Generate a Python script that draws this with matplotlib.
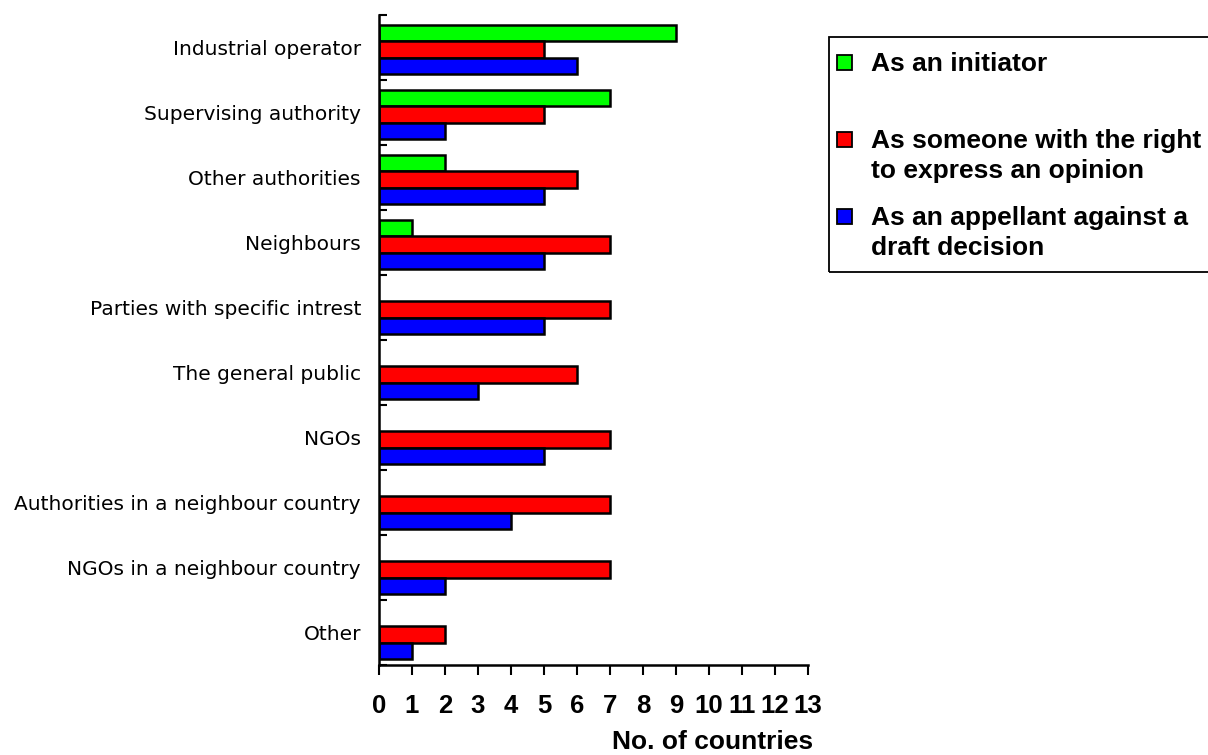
import numpy as np
import matplotlib.pyplot as plt
from matplotlib.patches import Rectangle

# Dados
categories = ['Industrial operator', 'Supervising authority', 'Other authorities',
              'Neighbours', 'Parties with specific intrest', 'The general public',
              'NGOs', 'Authorities in a neighbour country',
              'NGOs in a neighbour country', 'Other']
initiator = [9, 7, 2, 1, 0, 0, 0, 0, 0, 0]
opinion = [5, 5, 6, 7, 7, 6, 7, 7, 7, 2]
appellant = [6, 2, 5, 5, 5, 3, 5, 4, 2, 1]
series_names = ['As an initiator',
                'As someone with the right\nto express an opinion',
                'As an appellant against a\ndraft decision']
colors = ['#00ff00', '#ff0000', '#0000ff']

fig = plt.figure(figsize=(12.08, 7.55), dpi=100)
ax = fig.add_axes([379 / 1208, 90 / 755, (808 - 379) / 1208, 650 / 755])

y = np.arange(len(categories))
h = 0.25
for vals, off, c in zip([initiator, opinion, appellant], [-h, 0, h], colors):
    vals = np.array(vals, dtype=float)
    mask = vals > 0
    ax.barh(y[mask] + off + 0.03, vals[mask], height=h, color=c,
            edgecolor='black', linewidth=1.8)

ax.set_xlim(0, 13)
ax.set_ylim(len(categories) - 0.5, -0.5)
ax.spines['top'].set_visible(False)
ax.spines['right'].set_visible(False)
ax.spines['left'].set_linewidth(1.8)
ax.spines['bottom'].set_linewidth(1.8)

ax.set_xticks(range(14))
ax.set_xticklabels([str(i) for i in range(14)], fontsize=18.5, fontweight='bold',
                   family='Liberation Sans')
ax.tick_params(axis='x', direction='out', length=7, width=1.5, pad=14)

ax.set_yticks(y)
ax.set_yticklabels(categories, fontsize=14.5, family='DejaVu Sans')
ax.tick_params(axis='y', which='major', length=0, pad=13)
ax.set_yticks(np.arange(len(categories) + 1) - 0.5, minor=True)
ax.tick_params(axis='y', which='minor', direction='in', length=6, width=1.5)

fig.text(813 / 1208, 1 - 730 / 755, 'No. of countries', ha='right', va='top',
         fontsize=19, fontweight='bold', family='Liberation Sans')

# Legenda
fig.patches.append(Rectangle((829 / 1208, 1 - 272 / 755), 0.35, 235 / 755,
                             transform=fig.transFigure, fill=False,
                             edgecolor='black', linewidth=1.3))
for i, (name, c) in enumerate(zip(series_names, colors)):
    ytop = 62 + i * 77
    fig.patches.append(Rectangle((837 / 1208, 1 - (ytop + 8) / 755), 15 / 1208, 15 / 755,
                                 transform=fig.transFigure, facecolor=c,
                                 edgecolor='black', linewidth=1.3))
    fig.text(871 / 1208, 1 - (ytop - 10) / 755, name, ha='left', va='top',
             fontsize=19, fontweight='bold', family='Liberation Sans',
             linespacing=1.3)

plt.savefig('out.png', dpi=100)
